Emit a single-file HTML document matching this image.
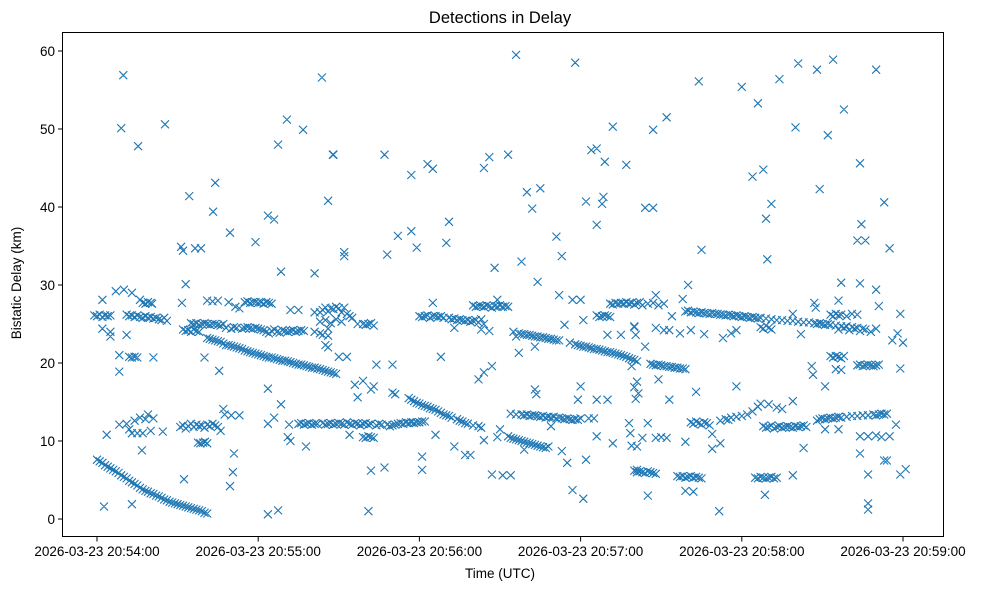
<!DOCTYPE html>
<html><head><meta charset="utf-8"><style>
html,body{margin:0;padding:0;background:#fff;}
svg{display:block;font-family:"Liberation Sans","DejaVu Sans",sans-serif;}
</style></head><body>
<svg id="chart" width="984" height="590" viewBox="0 0 984 590" xmlns="http://www.w3.org/2000/svg">
<rect x="0" y="0" width="984" height="590" fill="#fff"/>
<text x="500" y="23" text-anchor="middle" font-size="16.5" fill="#000">Detections in Delay</text>
<text x="500" y="578" text-anchor="middle" font-size="13.5" fill="#000">Time (UTC)</text>
<text transform="translate(21,283) rotate(-90)" text-anchor="middle" font-size="13.5" fill="#000">Bistatic Delay (km)</text>
<g id="marks"></g>
<g id="axes"></g>
<rect x="62.5" y="32.5" width="881" height="504" fill="none" stroke="#000" stroke-width="1"/>
</svg>
<script>
const xTickValues = [0, 60, 120, 180, 240, 300];
const xTickLabels = ["2026-03-23 20:54:00","2026-03-23 20:55:00","2026-03-23 20:56:00","2026-03-23 20:57:00","2026-03-23 20:58:00","2026-03-23 20:59:00"];
const yTickValues = [0, 10, 20, 30, 40, 50, 60];
const yTickLabels = ["0","10","20","30","40","50","60"];

// [seconds after 20:54:00, delay km]
const trackLow = [[0,7.6],[1,7.4],[2,7.2],[3,6.9],[4,6.7],[5,6.5],[6,6.3],[7,6.1],[8,5.9],[9,5.6],[10,5.4],[11,5.2],[12,4.9],[13,4.7],[14,4.5],[15,4.3],[16,4.0],[17,3.8],[18,3.6],[19,3.5],[20,3.3],[21,3.2],[22,3.0],[23,2.9],[24,2.7],[25,2.5],[26,2.4],[27,2.2],[28,2.1],[29,2.0],[30,1.9],[31,1.8],[32,1.7],[33,1.6],[34,1.5],[35,1.4],[36,1.3],[37,1.2],[38,1.1],[39,1.0],[40,0.8],[41,0.7]];
const trackEarly = [[-1,26.1],[0,26.0],[1,26.2],[2,25.9],[3,26.1],[4,26.0],[5,26.1],
[11,26.2],[12,26.0],[13,26.1],[14,25.9],[15,26.1],[16,25.9],[17,25.8],[18,26],[19,25.8],[20,25.9],[21,25.7],[22,25.8],[23,25.6],[24,25.5],[25,25.8],[26,25.4],
[17,27.7],[18,27.6],[19,27.8],[20,27.7],[20.5,27.6],
[32,24.3],[33,24.1],[34,24.2],[35,24.0],[36,24.3],[37,24.1],[38,24.0],
[35,25.1],[36,25],[37,25.1],[38,24.9],[39,25],[40,25.1],[41,25],[42,24.9],[43,25],[44,25],[45,24.9],[46,24.8],[47,25],
[48,24.5],[50,24.4],[51,24.6],[52,24.5],[54,24.4],[55,24.5],[56,24.6],[57,24.5],[58,24.4],[59,24.5],[60,24.4],[61,24.3],[62,24.2],[63,24.0],[64,23.8],[65,24.1],[66,24.3],[67,24.0],[68,23.9],[69,24.2],[70,24.1],[71,24.0],[72,24.1],[73,24.2],[74,24.0],[75,24.1],[76,24.2],[77,24.1],
[31.6,27.7],[41,28.0],[43,27.9],[45,28.0],[49,27.8],[51.5,27.2],[53,27.0],[55,27.8],[56,27.9],[57,27.7],[58,27.8],[59,27.8],[60,27.7],[61,27.8],[62,27.6],[63,27.8],[64,27.7],[65,27.6],
[72,26.8],[75,26.8],[81,26.5]];
const trackDesc1 = [[41,23.2],[42,23.1],[43,23.0],[44,22.9],[45,22.8],[46,22.7],[47,22.5],[48,22.3],[49,22.3],[50,22.2],[51,22.1],[52,22.0],[53,21.9],[54,21.8],[55,21.6],[56,21.5],[57,21.4],[58,21.3],[59,21.2],[60,21.1],[61,21.0],[62,20.9],[63,20.8],[64,20.7],[65,20.7],[66,20.6],[67,20.5],[68,20.4],[69,20.3],[70,20.3],[71,20.2],[72,20.1],[73,20.0],[74,19.9],[75,19.8],[76,19.8],[77,19.7],[78,19.6],[79,19.5],[80,19.4],[81,19.4],[82,19.3],[83,19.2],[84,19.1],[85,19.0],[86,18.9],[87,18.8],[88,18.7],[89,18.6]];
const trackMid12 = [[31,11.8],[32,12.0],[33,11.6],[34,11.9],[35,12.2],[36,11.8],[37,12.1],[38,11.9],[39,12.0],[40,11.7],[41,12.1],[42,11.9],[43,12.2],[44,12.0],[45,11.8],[46,11.3],
[37.6,9.8],[38.5,9.7],[39.5,9.8],[40.2,9.9],[41,9.7],
[75,12.2],[76,12.3],[77,12.1],[78,12.2],[79,12.3],[80,12.1],[81,12.2],
[82,12.2],[84,12.3],[85,12.1],[86,12.2],[87,12.3],[88,12.1],[89,12.2],[90,12.3],[91,12.2],[92,12.1],[93,12.4],[94,12.2],[95,12.1],[96,12.3],[97,12.2],[98,12.0],[99,12.2],[100,12.3],[101,12.1],[102,12.2],[104,12.0],[105,12.2],[106,12.1],[108,12.1],[109,11.9],[110,12.0],[111,12.1],[112,12.2],[113,12.3],[114,12.2],[115,12.4],[116,12.3],[117,12.4],[118,12.3],[119,12.4],[120,12.4],[121,12.5],[122,12.5],
[99,10.5],[100,10.4],[101,10.6],[102,10.5],[103,10.4]];
const trackDesc2 = [[116,15.5],[117,15.3],[118,15.1],[119,14.9],[120,14.8],[121,14.6],[122,14.5],[123,14.4],[124,14.2],[125,14.1],[126,14.0],[127,13.8],[128,13.6],[129,13.4],[130,13.3],[131,13.2],[132,13.0],[134,12.8],[135,12.6],[136,12.5],[137,12.3],[138,12.2],[140,12.0],[142,11.9],[143,11.7],[150,11.5],
[153,10.6],[154,10.4],[155,10.3],[156,10.2],[157,10.1],[158,10.0],[159,9.9],[160,9.8],[161,9.7],[162,9.6],[163,9.5],[164,9.4],[165,9.3],[166,9.2],[167,9.1],[168,9.3]];
const track13 = [[154,13.5],[156,13.4],[158,13.4],[159,13.3],[160,13.4],[161,13.2],[162,13.3],[163,13.3],[164,13.2],[165,13.1],[166,13.2],[167,13.0],[168,13.1],[169,13.0],[170,13.1],[171,12.9],[172,13.0],[173,12.9],[174,12.8],[175,12.9],[176,12.8],[177,12.7],[178,12.8],[179,12.7],[180,12.9],[183,12.9],[185,12.9]];
const trackUpperMid = [[83,26.5],[84,26.8],[85,27.1],[86,26.6],[87,27.0],[88,26.9],[89,27.2],[90,27.0],[91,26.5],[92,27.1],[93,26.3],[94,26.0],[83,25.3],[85,25.5],[87,25.1],[89,25.6],[91,25.3],[95,25.8],[97,25.0],[83,23.8],[84,23.6],[86,24.4],
[99,25],[100,24.9],[101,25],[102,25.1],[103,24.8],
[120,26],[121,25.9],[122,26],[123,26.1],[124,25.8],[125,26],[126,26],[127,25.9],[128,26],[129,25.8],
[131,25.8],[132,25.6],[133,25.7],[134,25.5],[135,25.6],[136,25.5],[137,25.4],[138,25.5],[139,25.3],[140,25.4],[141,25.5],[142,25.2],[143,25.6],[144,25.0],
[140,27.4],[141,27.2],[142,27.3],[143,27.3],[144,27.2],[145,27.4],[146,27.3],[147,27.1],[148,27.3],[149,27.2],[150,27.4],[151,27.2],[152,27.3],[153,27.2]];
const trackDesc3 = [[155,24.0],[157,23.8],[158,23.7],[159,23.7],[160,23.6],[161,23.6],[162,23.5],[163,23.4],[164,23.4],[165,23.3],[166,23.3],[167,23.2],[168,23.1],[169,23.1],[170,23.0],[171,22.9],[172,22.9],[176,22.6],[178,22.4],[179,22.3],[180,22.2],[181,22.1],[182,22.1],[183,22.0],[184,21.9],[185,21.8],[186,21.8],[187,21.7],[188,21.6],[189,21.5],[190,21.4],[191,21.4],[192,21.3],[193,21.2],[194,21.1],[195,21.0],[196,20.9],[197,20.8],[198,20.6],[199,20.5],[200,20.4],[201,20.2],[206,19.9],[207,19.8],[208,19.7],[209,19.8],[210,19.7],[211,19.6],[212,19.6],[213,19.5],[214,19.5],[215,19.4],[216,19.4],[217,19.3],[218,19.3],[219,19.2]];
const trackLate = [[191,27.6],[192,27.5],[193,27.7],[194,27.6],[195,27.7],[196,27.6],[197,27.8],[198,27.6],[199,27.7],[200,27.5],[201,27.7],[202,27.8],[203,27.4],[205,27.6],[207,27.7],[209,27.4],[211,27.6],
[186,26.1],[187,25.9],[188,26.0],[189,26.1],[190,26.0],[191,25.9],
[200,6.2],[201,6.0],[202,6.1],[203,6.0],[204,5.9],[205,6.1],[206,6.0],[207,5.9],[208,5.8],
[216,5.5],[217,5.4],[218,5.5],[219,5.3],[220,5.4],[221,5.5],[222,5.3],[223,5.4],[224,5.3],[225,5.2],
[245,5.3],[246,5.2],[247,5.4],[248,5.3],[249,5.2],[250,5.3],[251,5.4],[252,5.2],[253,5.3]];
const track26Late = [[219,26.6],[220,26.7],[221,26.5],[222,26.6],[223,26.5],[224,26.4],[225,26.5],[226,26.4],[227,26.4],[228,26.3],[229,26.4],[230,26.3],[231,26.3],[232,26.2],[233,26.2],[234,26.1],[235,26.2],[236,26.1],[237,26.0],[238,26.1],[239,26.0],[240,25.9],[241,26.0],[242,25.9],[243,25.8],[244,25.9],[245,25.8],[246,25.7],[247,25.8],[249,25.7],[251,25.6],[253,25.5],[255,25.5],[257,25.4],[259,25.4],[261,25.3],[263,25.2],[265,25.2],[267,25.1],[268,25.0],[269,25.1],[270,25.0],[271,24.9],[272,25.0],[273,24.9],[275,24.8],[277,24.7],[279,24.7],[281,24.6],[283,24.5],[285,24.4],
[247,24.6],[248,24.4],[249,24.8],[250,24.5],[251,24.3],
[273,26.2],[274,26.0],[275,26.3],[276,26.1],[277,26.2],[279,26.0],[281,26.3],[283,26.2],
[276,24.3],[278,24.5],[280,24.2],[282,24.4],[284,24.1],[286,24.3],[288,24.0],[290,24.4]];
const track12Late = [[221,12.4],[222,12.2],[223,12.5],[224,12.3],[225,12.1],[226,12.4],[227,12.3],[228,12.0],
[232,12.6],[234,12.8],[235,12.7],[236,13.0],[238,13.1],[240,13.2],[242,13.4],[244,13.8],[246,14.4],[247,14.8],
[248,11.9],[249,11.7],[250,11.8],[251,12.0],[252,11.6],[253,11.8],[254,11.9],[255,11.7],[256,11.8],[257,11.9],[258,11.8],[259,11.7],[260,11.9],[261,11.8],[262,11.9],[263,12.0],[264,11.8],
[268,12.6],[269,12.8],[270,12.9],[271,12.8],[272,12.9],[273,13.0],[274,12.9],[275,13.0],[276,13.1],[277,13.0],[279,13.1],[281,13.2],[283,13.2],[285,13.3],[287,13.3],[289,13.4],[290,13.3],[291,13.4],[292,13.5],[293,13.4],[294,13.5],
[273,20.9],[274,20.7],[275,20.9],[276,20.8],[277,20.6],[278,20.9],
[283,19.7],[284,19.8],[285,19.6],[286,19.7],[287,19.8],[288,19.7],[289,19.6],[290,19.7],[291,19.8]];
const outliersEarly = [[9.8,56.9],[9,50.1],[15.3,47.8],[25.3,50.6],[44,43.1],[34.3,41.4],[43.2,39.4],[49.5,36.7],[59,35.5],[31.3,34.9],[32,34.4],[36.5,34.7],[38.7,34.7],[63.6,38.9],[65.9,38.4],[67.4,48],[70.7,51.2],[76.7,49.9],[83.7,56.6],[87.8,46.7],[86,40.8],[68.5,31.7],[81,31.5],[92,33.7],[92,34.2],
[2,28.1],[7,29.2],[10,29.4],[13,29],[16,28.1],[2,24.4],[5,24],[11,23.6],[5,23.4],[8.3,21],[8.3,18.9],[12,20.8],[13,20.7],[14,20.8],[15,20.7],[21,20.7],[33,30.1],[86,23.5],[86,22],[90,20.8],[93,20.8],[81,24],[40,20.7],[45.5,19],
[3.6,10.8],[8.3,12.1],[11,12.2],[12,11.5],[13,11],[14,12.6],[15,11],[16,13],[17,11],[18,12.8],[19,13.4],[20,11.3],[21,12.9],[16.7,8.8],[24.5,11.2],[47,14.1],[47.5,13.4],[50,13.3],[53,13.3],[51,8.4],[50.6,6],[49.5,4.2],[32.4,5.1],[63.6,16.7],[63.6,12.2],[65.9,13],[68.5,14.7],[71,10.5],[72,10],[71.5,12.1],[77.8,9.3],[94,10.8],[63.6,0.6],[67.4,1.1],[2.6,1.6],[13,1.9]];
const outliersMid = [[156,59.5],[178,58.5],[192,50.3],[88,46.7],[107,46.7],[117,44.1],[123,45.5],[125,44.9],[144,45],[146,46.4],[153,46.7],[184,47.3],[186,47.5],[189,45.8],[197,45.4],[160,41.9],[165,42.4],[162,39.8],[182,40.7],[188,40.4],[188.5,41.3],[186,37.7],[131,38.1],[130,35.4],[112,36.3],[117,36.9],[119,34.8],[108,33.9],[171,36.2],[173,33.7],[148,32.2],[158,33.0],[164,30.4],[172,28.7],[177,28.1],[180,28.1],[149,28.1],[125,27.7],
[128,20.8],[85,22.3],[104,19.8],[110,19.8],[142,17.9],[144,18.8],[147,19.6],[157,21.3],[163,22.1],[156,23.4],[174,24.9],[181,25.5],[199,19.6],[200,24.7],[190,23.6],[195,23.6],[133,24.5],[143,24.3],[146,24.1],
[96,17.2],[99,17.7],[97,15.6],[102,16.6],[103,17],[110,16.2],[111,16],[163,16.6],[163.5,16],[180,17],[179,15.3],[186,15.3],[190,15.3],[200,16.9],[200.5,15.4],[126,10.8],[133,9.3],[137,8.2],[139,8.2],[144,10.1],[149,10.5],[121,8],[121,6.3],[102,6.2],[107,6.6],[101,1],[147,5.7],[151,5.6],[154,5.6],[159,8.9],[173,8.7],[175,7.2],[182,7.6],[177,3.7],[181,2.6],[201,6.3],[192,9.7],[198,12.3],[198.5,11],[186,10.6],[199,9.4],[169,11.9]];
const outliersLate = [[224,56.1],[212,51.5],[207,49.9],[240,55.4],[246,53.3],[254,56.4],[261,58.4],[268,57.6],[274,58.9],[278,52.5],[290,57.6],[260,50.2],[272,49.2],[244,43.9],[248,44.8],[284,45.6],[269,42.3],[293,40.6],[251,40.4],[249,38.5],[204,39.9],[207,39.9],[284.5,37.8],[283,35.7],[286,35.7],[295,34.7],[225,34.5],[249.5,33.3],[277,30.3],[284,30.2],[290,29.4],[220,30],[208,28.7],[218,28.2],[276,28],[291,27.3],[267,27.7],[267.5,27.1],
[204,22.1],[200,24.6],[200.5,23.6],[208,24.5],[211,24.2],[213,24.2],[217,23.8],[221,24.2],[226,23.7],[233,23.2],[236,23.8],[238,24.2],[214,26],[262,23.7],[296,22.9],[298,23.8],[300,22.6],[299,26.3],[259,26.3],
[201,17.6],[201.5,16.1],[209,17.9],[205,12.3],[213,15.3],[223,16.3],[238,17],[203,10.4],[201,9.3],[208,10.4],[210,10.5],[212,10.4],[219,9.9],[229,10.9],[229,9],[232,9.7],[259,15.1],[250,14.7],[253,14.3],[255,14.1],[266,19.6],[266.5,18.5],[271,17],[275,19.2],[277,19.1],[299,19.3],[263,9.1],[284,8.4],[284,10.6],[287,10.6],[290,10.7],[292,10.5],[295,10.6],[293,7.5],[294,7.5],[297.4,12.1],[205,3],[219,3.6],[222,3.5],[231.6,1],[248.6,3.1],[259,5.6],[287,5.7],[287,2],[287,1.2],[299,5.7],[301,6.4],[271,11.5],[276,11.5]];

const allSeries = [trackLow, trackEarly, trackDesc1, trackMid12, trackDesc2, track13, trackUpperMid, trackDesc3, trackLate, track26Late, track12Late, outliersEarly, outliersMid, outliersLate];

const X0 = 97, X1 = 903, T0 = 0, T1 = 300;
const Y0 = 519, Y1 = 51, K0 = 0, K1 = 60;
function xScale(t){ return X0 + (t - T0) / (T1 - T0) * (X1 - X0); }
function yScale(k){ return Y0 + (k - K0) / (K1 - K0) * (Y1 - Y0); }

const NS = "http://www.w3.org/2000/svg";
const marks = document.getElementById("marks");
const axes = document.getElementById("axes");
let d = "";
allSeries.forEach(series => {
  series.forEach(p => {
    const cx = xScale(p[0]), cy = yScale(p[1]), r = 4;
    d += `M${(cx-r).toFixed(1)} ${(cy-r).toFixed(1)}L${(cx+r).toFixed(1)} ${(cy+r).toFixed(1)}M${(cx-r).toFixed(1)} ${(cy+r).toFixed(1)}L${(cx+r).toFixed(1)} ${(cy-r).toFixed(1)}`;
  });
});
const pth = document.createElementNS(NS, "path");
pth.setAttribute("d", d);
pth.setAttribute("stroke", "#1f77b4");
pth.setAttribute("stroke-width", "1.1");
pth.setAttribute("fill", "none");


marks.appendChild(pth);

xTickValues.forEach((v, i) => {
  const x = xScale(v);
  const ln = document.createElementNS(NS, "line");
  ln.setAttribute("x1", x); ln.setAttribute("x2", x);
  ln.setAttribute("y1", 537); ln.setAttribute("y2", 541.5);
  ln.setAttribute("stroke", "#000");
  
  
  axes.appendChild(ln);
  const tx = document.createElementNS(NS, "text");
  tx.setAttribute("x", x); tx.setAttribute("y", 556);
  tx.setAttribute("text-anchor", "middle");
  tx.setAttribute("font-size", "13.5");
  tx.textContent = xTickLabels[i];
  
  
  axes.appendChild(tx);
});
yTickValues.forEach((v, i) => {
  const y = yScale(v);
  const ln = document.createElementNS(NS, "line");
  ln.setAttribute("x1", 58); ln.setAttribute("x2", 62.5);
  ln.setAttribute("y1", y); ln.setAttribute("y2", y);
  ln.setAttribute("stroke", "#000");
  
  
  axes.appendChild(ln);
  const tx = document.createElementNS(NS, "text");
  tx.setAttribute("x", 55); tx.setAttribute("y", y + 5);
  tx.setAttribute("text-anchor", "end");
  tx.setAttribute("font-size", "13.5");
  tx.textContent = yTickLabels[i];
  
  
  axes.appendChild(tx);
});
</script>
</body></html>
